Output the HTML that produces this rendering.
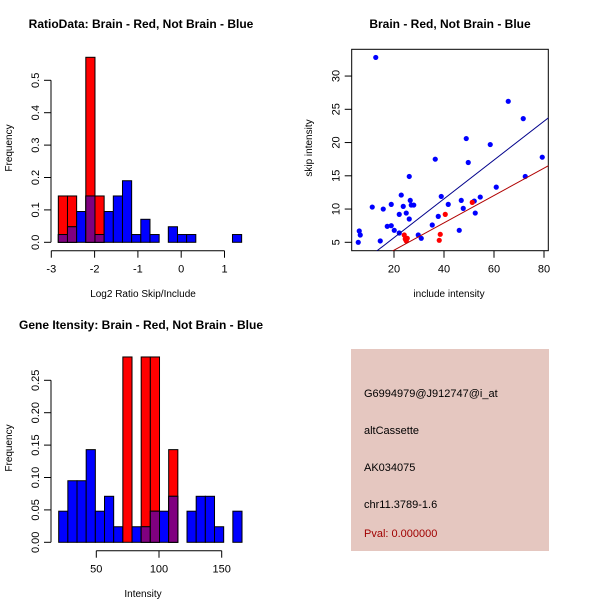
<!DOCTYPE html>
<html><head><meta charset="utf-8"><style>
body{margin:0;background:#fff}
svg{display:block;font-family:"Liberation Sans",sans-serif}
</style></head><body>
<svg id="s" width="600" height="600" xmlns="http://www.w3.org/2000/svg">
<rect width="600" height="600" fill="#fff"/>
<g>
<rect x="351" y="349" width="198" height="202" fill="#e5c7c0"/>
<text x="364" y="397" font-size="11" fill="#000">G6994979@J912747@i_at</text>
<text x="364" y="434" font-size="11" fill="#000">altCassette</text>
<text x="364" y="471" font-size="11" fill="#000">AK034075</text>
<text x="364" y="508" font-size="11" fill="#000">chr11.3789-1.6</text>
<text x="364" y="537" font-size="11" fill="#a00000">Pval: 0.000000</text>
</g>
</svg>
<script>
// Top-left histogram data
const ratioBinStart=-2.838, ratioBinWidth=0.2117;
const ratioBlue=[0.024,0.048,0.095,0.143,0.024,0.095,0.143,0.19,0.024,0.071,0.024,0,0.048,0.024,0.024,0,0,0,0,0.024];
const ratioRed=[0.143,0.143,0,0.571,0.143,0,0,0,0,0,0,0,0,0,0,0,0,0,0,0];
const ratioXTicks=[-3,-2,-1,0,1];
const ratioYTicks=[0,0.1,0.2,0.3,0.4,0.5];
// Bottom-left histogram data
const intBinStart=20, intBinWidth=7.31;
const intBlue=[0.048,0.095,0.095,0.143,0.048,0.071,0.024,0,0.024,0.024,0.048,0.048,0.071,0,0.048,0.071,0.071,0.024,0,0.048];
const intRed=[0,0,0,0,0,0,0,0.286,0,0.286,0.286,0,0.143,0,0,0,0,0,0,0];
const intXTicks=[50,100,150];
const intYTicks=[0,0.05,0.1,0.15,0.2,0.25];
// Scatter data
const blueX=[5.7,6.1,6.5,12.7,11.3,14.5,15.7,17.3,18.9,18.9,20.1,22.1,22.1,22.9,23.7,24.9,26.1,26.1,26.5,26.9,27.9,29.7,30.9,35.3,36.5,37.7,38.9,41.7,46.1,46.9,47.7,48.9,49.7,52.1,52.5,54.5,58.5,60.9,65.7,71.7,72.5,79.3];
const blueY=[5.0,6.7,6.1,32.8,10.3,5.2,10.0,7.4,7.5,10.7,6.8,9.2,6.4,12.1,10.4,9.4,14.9,8.5,11.3,10.6,10.6,6.1,5.6,7.6,17.5,8.9,11.9,10.7,6.8,11.3,10.1,20.6,17.0,11.2,9.4,11.8,19.7,13.3,26.2,23.6,14.9,17.8];
const redX=[24.1,24.5,24.9,25.3,40.5,38.1,38.5,51.3];
const redY=[6.1,5.5,5.2,5.6,9.2,5.3,6.2,11.0];
const blueFit=[-0.13,0.2917];
const redFit=[-0.3,0.2056];
const scX=[20,40,60,80];
const scY=[5,10,15,20,25,30];

const svg=document.getElementById('s');
const NS='http://www.w3.org/2000/svg';
function mk(tag,attrs,parent){const e=document.createElementNS(NS,tag);for(const k in attrs)e.setAttribute(k,attrs[k]);(parent||svg).appendChild(e);return e;}
function txt(x,y,s,size,opts,parent){const t=mk('text',Object.assign({x:x,y:y,'font-size':size,'text-anchor':'middle'},opts||{}),parent);t.textContent=s;return t;}

function hist(o){
  const g=mk('g',{});
  
  
  const sx=v=>o.x0+(v-o.xv0)*o.xs, sy=v=>o.y0-v*o.ys;
  for(let i=0;i<o.red.length;i++){
    const a=o.start+i*o.w,b=a+o.w;
    const r=o.red[i],bl=o.blue[i];
    if(r>0){const e=mk('rect',{x:sx(a),y:sy(r),width:sx(b)-sx(a),height:sy(0)-sy(r),fill:'#ff0000',stroke:'#000','stroke-width':1},g);
      
      }
    if(bl>0){const e=mk('rect',{x:sx(a),y:sy(bl),width:sx(b)-sx(a),height:sy(0)-sy(bl),fill:'#0000ff',stroke:'#000','stroke-width':1},g);
      
      }
    const m=Math.min(r,bl);
    if(m>0){const e=mk('rect',{x:sx(a),y:sy(m),width:sx(b)-sx(a),height:sy(0)-sy(m),fill:'#800080',stroke:'#000','stroke-width':1},g);
      
      }
  }
  const yt=o.yticks, ax=o.yAxisX;
  mk('line',{x1:ax,x2:ax,y1:sy(yt[0]),y2:sy(yt[yt.length-1]),stroke:'#000'},g);
  yt.forEach(v=>{mk('line',{x1:ax-7,x2:ax,y1:sy(v),y2:sy(v),stroke:'#000'},g);
    const t=txt(0,0,o.fmt(v),11,{transform:`translate(${ax-12},${sy(v)}) rotate(-90)`},g);
    
    });
  const xt=o.xticks, ay=o.axisY;
  mk('line',{x1:sx(xt[0]),x2:sx(xt[xt.length-1]),y1:ay,y2:ay,stroke:'#000'},g);
  xt.forEach(v=>{mk('line',{x1:sx(v),x2:sx(v),y1:ay,y2:ay+7,stroke:'#000'},g);
    const t=txt(sx(v),ay+22,String(v),11,{},g);
    
    });
  const ti=txt(o.titleX,o.titleY,o.title,12,{'font-weight':'bold'},g);
  
  
  const xl=txt(o.xlabX,o.xlabY,o.xlab,10,{},g);
  
  
  const yl=txt(0,0,'Frequency',10,{transform:`translate(12,${o.ylabY}) rotate(-90)`},g);
  
  
}
hist({name:'ratio-histogram',x0:51.3,xv0:-3,xs:43.3,yAxisX:51,y0:242.3,ys:324,start:ratioBinStart,w:ratioBinWidth,red:ratioRed,blue:ratioBlue,
  xticks:ratioXTicks,yticks:ratioYTicks,axisY:250.7,fmt:v=>v.toFixed(1),title:'RatioData: Brain - Red, Not Brain - Blue',titleX:141,titleY:28,
  xlab:'Log2 Ratio Skip/Include',xlabX:143,xlabY:297,ylabY:148});
hist({name:'intensity-histogram',x0:96.3,xv0:50,xs:1.254,yAxisX:51,y0:542.3,ys:648,start:intBinStart,w:intBinWidth,red:intRed,blue:intBlue,
  xticks:intXTicks,yticks:intYTicks,axisY:550.7,fmt:v=>v.toFixed(2),title:'Gene Itensity: Brain - Red, Not Brain - Blue',titleX:141,titleY:329,
  xlab:'Intensity',xlabX:143,xlabY:597,ylabY:448});

// Scatter
const sg=mk('g',{});


const L=351.7,R=548.3,T=49.3,B=250.7;
const px=v=>344+v*2.5, py=v=>242.3-(v-5)*6.65;
const cp=mk('clipPath',{id:'cp'},sg);
mk('rect',{x:L,y:T,width:R-L,height:B-T},cp);
mk('rect',{x:L,y:T,width:R-L,height:B-T,fill:'none',stroke:'#000'},sg);
blueX.forEach((x,i)=>{const c=mk('circle',{cx:px(x),cy:py(blueY[i]),r:2.6,fill:'#0000ff'},sg);
  
  });
redX.forEach((x,i)=>{const c=mk('circle',{cx:px(x),cy:py(redY[i]),r:2.6,fill:'#ff0000'},sg);
  
  });
[[blueFit,'#00008b','fit-line-blue'],[redFit,'#b00000','fit-line-red']].forEach(([f,c,n])=>{
  const l=mk('line',{x1:px(0),y1:py(f[0]),x2:px(90),y2:py(f[0]+f[1]*90),stroke:c,'stroke-width':1,'clip-path':'url(#cp)'},sg);
  
  });
scX.forEach(v=>{mk('line',{x1:px(v),x2:px(v),y1:B,y2:B+7,stroke:'#000'},sg);
  const t=txt(px(v),B+22,String(v),11,{},sg);
  
  });
scY.forEach(v=>{mk('line',{x1:L-7,x2:L,y1:py(v),y2:py(v),stroke:'#000'},sg);
  const t=txt(0,0,String(v),11,{transform:`translate(${L-12},${py(v)}) rotate(-90)`},sg);
  
  });
const st=txt(450,28,'Brain - Red, Not Brain - Blue',12,{'font-weight':'bold'},sg);


const sxl=txt(449,297,'include intensity',10,{},sg);


const syl=txt(0,0,'skip intensity',10,{transform:'translate(312,148) rotate(-90)'},sg);


</script>
</body></html>
